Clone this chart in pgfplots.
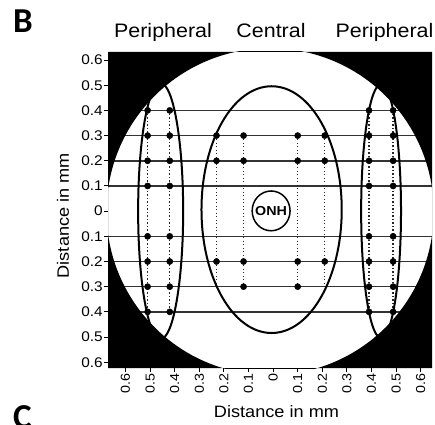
\documentclass[border=0pt]{standalone}
\usepackage{pgfplots}
\pgfplotsset{compat=1.18}
\usepackage{fontspec}
\setmainfont{Liberation Sans}[FakeStretch=1.1]
\newfontfamily\calibri{Carlito}
\begin{document}
\begin{tikzpicture}
\begin{axis}[
  at={(108pt,56pt)}, anchor=south west,
  scale only axis, width=324pt, height=316pt,
  xmin=-0.671, xmax=0.646, ymin=-0.623, ymax=0.632,
  axis line style={draw=none},
  tick align=outside, tick pos=left,
  major tick length=4pt,
  every tick/.style={black, line width=1pt},
  xtick={-0.6,-0.5,-0.4,-0.3,-0.2,-0.1,0,0.1,0.2,0.3,0.4,0.5,0.6},
  xticklabels={0.6,0.5,0.4,0.3,0.2,0.1,0,0.1,0.2,0.3,0.4,0.5,0.6},
  ytick={-0.6,-0.5,-0.4,-0.3,-0.2,-0.1,0,0.1,0.2,0.3,0.4,0.5,0.6},
  yticklabels={0.6,0.5,0.4,0.3,0.2,0.1,0,0.1,0.2,0.3,0.4,0.5,0.6},
  /pgf/number format/assume math mode=true,
  x tick label style={rotate=90, anchor=east, font=\fontsize{13}{13}\selectfont, inner sep=1pt},
  y tick label style={font=\fontsize{14}{14}\selectfont, inner sep=1pt},
  xlabel={Distance in mm}, ylabel={Distance in mm},
  label style={font=\fontsize{16.5}{16.5}\selectfont},
  xlabel style={at={(axis description cs:0.52,-0.139)}, anchor=center},
  ylabel style={at={(axis description cs:-0.139,0.482)}, anchor=center},
]
% horizontal sampling rows
\addplot[line width=1.5pt, color=black!80] coordinates {(-0.671,0.4) (0.646,0.4)};
\addplot[line width=1.5pt, color=black!80] coordinates {(-0.671,0.3) (0.646,0.3)};
\addplot[line width=1.5pt, color=black!80] coordinates {(-0.671,0.2) (0.646,0.2)};
\addplot[line width=1.5pt, color=black!80] coordinates {(-0.671,0.1) (0.646,0.1)};
\addplot[line width=1.5pt, color=black!80] coordinates {(-0.671,-0.1) (0.646,-0.1)};
\addplot[line width=1.5pt, color=black!80] coordinates {(-0.671,-0.2) (0.646,-0.2)};
\addplot[line width=1.5pt, color=black!80] coordinates {(-0.671,-0.3) (0.646,-0.3)};
\addplot[line width=1.5pt, color=black!80] coordinates {(-0.671,-0.4) (0.646,-0.4)};
% dotted columns
\addplot[line width=1.3pt, black!85, dash pattern=on 1.3pt off 2.2pt] coordinates {(-0.51,0.4) (-0.51,-0.4)};
\addplot[line width=1.3pt, black!85, dash pattern=on 1.3pt off 2.2pt] coordinates {(-0.42,0.4) (-0.42,-0.4)};
\addplot[line width=1.3pt, black!85, dash pattern=on 1.3pt off 2.2pt] coordinates {(-0.23,0.3) (-0.23,-0.3)};
\addplot[line width=1.3pt, black!85, dash pattern=on 1.3pt off 2.2pt] coordinates {(-0.12,0.3) (-0.12,-0.3)};
\addplot[line width=1.3pt, black!85, dash pattern=on 1.3pt off 2.2pt] coordinates {(0.10,0.3) (0.10,-0.3)};
\addplot[line width=1.3pt, black!85, dash pattern=on 1.3pt off 2.2pt] coordinates {(0.21,0.3) (0.21,-0.3)};
\addplot[line width=1.3pt, black!85, dash pattern=on 1.3pt off 2.2pt] coordinates {(0.39,0.4) (0.39,-0.4)};
\addplot[line width=1.3pt, black!85, dash pattern=on 1.3pt off 2.2pt] coordinates {(0.488,0.4) (0.488,-0.4)};
% regions
\draw[line width=2pt] (axis cs:-0.457,0) ellipse [x radius=0.0915, y radius=0.508];
\draw[line width=2pt] (axis cs:0.439,0) ellipse [x radius=0.081, y radius=0.504];
\draw[line width=2pt] (axis cs:-0.006,0.006) ellipse [x radius=0.285, y radius=0.49];
\draw[line width=1.5pt, fill=white] (axis cs:-0.008,0.001) ellipse [x radius=0.077, y radius=0.079];
\node[font=\bfseries\fontsize{13}{13}\selectfont] at (axis cs:-0.008,0.001) {ONH};
% sampling points
\addplot[only marks, mark=*, mark size=3.1pt, black] coordinates {
(-0.51,0.4) (-0.51,0.3) (-0.51,0.2) (-0.51,0.1) (-0.51,-0.1) (-0.51,-0.2) (-0.51,-0.3) (-0.51,-0.4)
(-0.42,0.4) (-0.42,0.3) (-0.42,0.2) (-0.42,0.1) (-0.42,-0.1) (-0.42,-0.2) (-0.42,-0.3) (-0.42,-0.4)
};
\addplot[only marks, mark=*, mark size=3.1pt, black] coordinates {
(-0.23,0.3) (-0.23,0.2) (-0.23,-0.2)
(-0.12,0.3) (-0.12,0.2) (-0.12,-0.2) (-0.12,-0.3)
(0.10,0.3) (0.10,0.2) (0.10,-0.2) (0.10,-0.3)
(0.21,0.3) (0.21,0.2) (0.21,-0.2)
};
\addplot[only marks, mark=*, mark size=3.1pt, black] coordinates {
(0.39,0.4) (0.39,0.3) (0.39,0.2) (0.39,0.1) (0.39,-0.1) (0.39,-0.2) (0.39,-0.3) (0.39,-0.4)
(0.488,0.4) (0.488,0.3) (0.488,0.2) (0.488,0.1) (0.488,-0.1) (0.488,-0.2) (0.488,-0.3) (0.488,-0.4)
};
% outside of the retina
\fill[black, even odd rule] (rel axis cs:0,0) rectangle (rel axis cs:1,1)
  (axis cs:-0.012,-0.002) ellipse [x radius=0.665, y radius=0.649];
\end{axis}
\node[anchor=base, font=\fontsize{19.5}{19.5}\selectfont] at (163pt,386pt) {Peripheral};
\node[anchor=base, font=\fontsize{19.5}{19.5}\selectfont] at (271pt,386pt) {Central};
\node[anchor=base, font=\fontsize{19.5}{19.5}\selectfont] at (384.5pt,386pt) {Peripheral};
\node[anchor=base west, inner sep=0pt, font=\calibri\bfseries\fontsize{35}{35}\selectfont] at (13pt,391pt) {B};
\node[anchor=base west, inner sep=0pt, font=\calibri\bfseries\fontsize{35}{35}\selectfont] at (13pt,-4pt) {C};
\pgfresetboundingbox
\path[use as bounding box] (0,0) rectangle (435pt,424pt);
\end{tikzpicture}
\end{document}
